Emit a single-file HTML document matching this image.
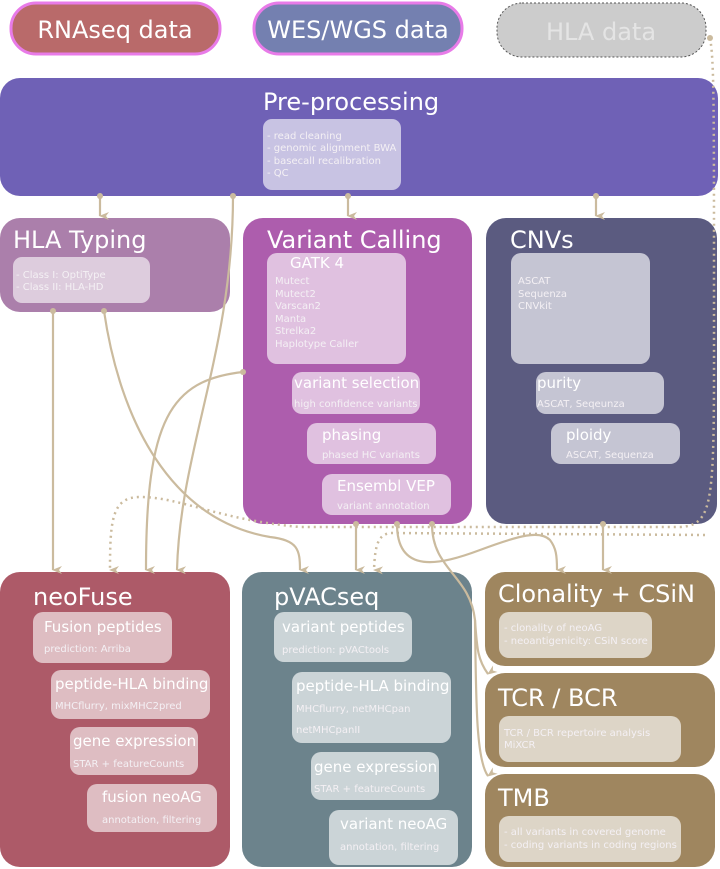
<!DOCTYPE html>
<html><head><meta charset="utf-8"><style>
body{margin:0;background:#fff}
svg{display:block}
text{font-family:"DejaVu Sans","Liberation Sans",sans-serif;fill:#fff}
.t{font-size:24px}
.s{font-size:10px;fill:#f4f0f4}
.m{font-size:15px}
</style></head><body>
<svg width="720" height="869" viewBox="0 0 720 869" xmlns="http://www.w3.org/2000/svg">
<defs>
<marker id="a" markerWidth="8" markerHeight="10" refX="4" refY="9" orient="auto" markerUnits="userSpaceOnUse" viewBox="0 0 8 10">
<path d="M0,0 L4,10 L8,0 L4,3 Z" fill="#cbbb9e"/></marker>
<marker id="ar" markerWidth="12" markerHeight="14" refX="10" refY="6" orient="auto" markerUnits="userSpaceOnUse" viewBox="0 0 12 12">
<path d="M0,0 L12,6 L0,12 L4,6 Z" fill="#cbbb9e"/></marker>
</defs>
<!-- pills -->
<rect x="11" y="3" width="209" height="51" rx="25" fill="#b96a6a" stroke="#e87be8" stroke-width="3"/>
<text x="115" y="38" class="t" text-anchor="middle" font-size="24">RNAseq data</text>
<rect x="254" y="3" width="208" height="51" rx="25" fill="#7480b0" stroke="#e87be8" stroke-width="3"/>
<text x="358" y="38" class="t" text-anchor="middle">WES/WGS data</text>
<rect x="497" y="3" width="209" height="54" rx="25" fill="#cccccc" stroke="#555" stroke-width="1" stroke-dasharray="2,2"/>
<text x="601" y="40" class="t" text-anchor="middle" style="fill:#e4e4e4">HLA data</text>

<!-- big boxes -->
<rect x="0" y="78" width="718" height="118" rx="20" fill="#6f61b6"/>
<text x="263" y="110" class="t">Pre-processing</text>
<rect x="263" y="119" width="138" height="71" rx="9" fill="#fff" fill-opacity="0.62"/>
<text class="s"><tspan x="267" y="139">- read cleaning</tspan><tspan x="267" y="151">- genomic alignment BWA</tspan><tspan x="267" y="164">- basecall recalibration</tspan><tspan x="267" y="176">- QC</tspan></text>

<rect x="0" y="218" width="230" height="94" rx="20" fill="#ab7fab"/>
<text x="13" y="248" class="t">HLA Typing</text>
<rect x="13" y="257" width="137" height="46" rx="9" fill="#fff" fill-opacity="0.6"/>
<text class="s"><tspan x="16" y="278">- Class I: OptiType</tspan><tspan x="16" y="290">- Class II: HLA-HD</tspan></text>

<rect x="243" y="218" width="229" height="306" rx="20" fill="#ad5dad"/>
<text x="267" y="248" class="t">Variant Calling</text>
<rect x="267" y="253" width="139" height="111" rx="10" fill="#fff" fill-opacity="0.62"/>
<text x="290" y="268" class="m" font-size="16">GATK 4</text>
<text class="s"><tspan x="275" y="284">Mutect</tspan><tspan x="275" y="297">Mutect2</tspan><tspan x="275" y="309">Varscan2</tspan><tspan x="275" y="322">Manta</tspan><tspan x="275" y="334">Strelka2</tspan><tspan x="275" y="347">Haplotype Caller</tspan></text>
<rect x="292" y="372" width="128" height="42" rx="10" fill="#fff" fill-opacity="0.62"/>
<text x="294" y="388" class="m">variant selection</text><text x="294" y="407" class="s">high confidence variants</text>
<rect x="307" y="423" width="129" height="41" rx="10" fill="#fff" fill-opacity="0.62"/>
<text x="322" y="440" class="m">phasing</text><text x="322" y="458" class="s">phased HC variants</text>
<rect x="322" y="474" width="129" height="41" rx="10" fill="#fff" fill-opacity="0.62"/>
<text x="337" y="491" class="m">Ensembl VEP</text><text x="337" y="509" class="s">variant annotation</text>

<rect x="486" y="218" width="231" height="306" rx="20" fill="#5b5b80"/>
<text x="510" y="248" class="t">CNVs</text>
<rect x="511" y="253" width="139" height="111" rx="10" fill="#fff" fill-opacity="0.65"/>
<text class="s"><tspan x="518" y="284">ASCAT</tspan><tspan x="518" y="297">Sequenza</tspan><tspan x="518" y="309">CNVkit</tspan></text>
<rect x="536" y="372" width="128" height="42" rx="10" fill="#fff" fill-opacity="0.65"/>
<text x="537" y="388" class="m">purity</text><text x="537" y="407" class="s">ASCAT, Seqeunza</text>
<rect x="551" y="423" width="129" height="41" rx="10" fill="#fff" fill-opacity="0.65"/>
<text x="566" y="440" class="m">ploidy</text><text x="566" y="458" class="s">ASCAT, Sequenza</text>

<rect x="0" y="572" width="230" height="295" rx="20" fill="#ad5a68"/>
<text x="33" y="605" class="t" font-size="26">neoFuse</text>
<rect x="33" y="612" width="139" height="51" rx="10" fill="#fff" fill-opacity="0.6"/>
<text x="44" y="632" class="m" font-size="16">Fusion peptides</text><text x="44" y="652" class="s">prediction: Arriba</text>
<rect x="51" y="670" width="159" height="49" rx="10" fill="#fff" fill-opacity="0.6"/>
<text x="55" y="689" class="m" font-size="16">peptide-HLA binding</text><text x="55" y="709" class="s">MHCflurry, mixMHC2pred</text>
<rect x="70" y="727" width="128" height="48" rx="10" fill="#fff" fill-opacity="0.6"/>
<text x="73" y="746" class="m" font-size="16">gene expression</text><text x="73" y="767" class="s">STAR + featureCounts</text>
<rect x="87" y="784" width="130" height="48" rx="10" fill="#fff" fill-opacity="0.6"/>
<text x="102" y="802" class="m" font-size="16">fusion neoAG</text><text x="102" y="823" class="s">annotation, filtering</text>

<rect x="242" y="572" width="230" height="295" rx="20" fill="#6c838c"/>
<text x="274" y="605" class="t" font-size="26">pVACseq</text>
<rect x="274" y="612" width="138" height="50" rx="10" fill="#fff" fill-opacity="0.65"/>
<text x="282" y="632" class="m" font-size="16">variant peptides</text><text x="282" y="653" class="s">prediction: pVACtools</text>
<rect x="292" y="672" width="159" height="71" rx="10" fill="#fff" fill-opacity="0.65"/>
<text x="296" y="691" class="m" font-size="16">peptide-HLA binding</text><text x="296" y="712" class="s">MHCflurry, netMHCpan</text><text x="296" y="733" class="s">netMHCpanII</text>
<rect x="311" y="752" width="128" height="48" rx="10" fill="#fff" fill-opacity="0.65"/>
<text x="314" y="772" class="m" font-size="16">gene expression</text><text x="314" y="792" class="s">STAR + featureCounts</text>
<rect x="329" y="810" width="129" height="55" rx="10" fill="#fff" fill-opacity="0.65"/>
<text x="340" y="829" class="m" font-size="16">variant neoAG</text><text x="340" y="850" class="s">annotation, filtering</text>

<rect x="485" y="572" width="230" height="94" rx="20" fill="#9f865f"/>
<text x="498" y="602" class="t" font-size="26">Clonality + CSiN</text>
<rect x="499" y="612" width="153" height="46" rx="10" fill="#fff" fill-opacity="0.65"/>
<text class="s"><tspan x="504" y="631">- clonality of neoAG</tspan><tspan x="504" y="644">- neoantigenicity: CSiN score</tspan></text>
<rect x="485" y="673" width="230" height="94" rx="20" fill="#9f865f"/>
<text x="498" y="706" class="t" font-size="26">TCR / BCR</text>
<rect x="499" y="716" width="182" height="46" rx="10" fill="#fff" fill-opacity="0.65"/>
<text class="s"><tspan x="504" y="736">TCR / BCR repertoire analysis</tspan><tspan x="504" y="748">MiXCR</tspan></text>
<rect x="485" y="774" width="230" height="93" rx="20" fill="#9f865f"/>
<text x="498" y="806" class="t" font-size="26">TMB</text>
<rect x="499" y="816" width="182" height="46" rx="10" fill="#fff" fill-opacity="0.65"/>
<text class="s"><tspan x="504" y="835">- all variants in covered genome</tspan><tspan x="504" y="848">- coding variants in coding regions</tspan></text>

<!-- connectors -->
<g fill="none" stroke="#cbbb9e" stroke-width="2.2">
<path d="M100,196 V216" marker-end="url(#a)"/>
<path d="M348,196 V216" marker-end="url(#a)"/>
<path d="M596,196 V216" marker-end="url(#a)"/>
<path d="M233,196 C233,350 180,450 177,570" marker-end="url(#a)"/>
<path d="M53,311 V570" marker-end="url(#a)"/>
<path d="M104,311 C120,420 170,520 270,537 C298,540 300,550 300,570" marker-end="url(#a)"/>
<path d="M243,372 C170,380 146,420 146,570" marker-end="url(#a)"/>
<path d="M356,523 V570" marker-end="url(#a)"/>
<path d="M603,524 V570" marker-end="url(#a)"/>
<path d="M397,524 C397,575 440,565 480,550 C520,535 540,530 550,540 C556,548 557,555 557,570" marker-end="url(#a)"/>
<path d="M432,524 C432,570 470,575 475,620 C477,650 478,660 488,674" marker-end="url(#a)"/>
<path d="M475,620 C476,700 476,760 488,776" marker-end="url(#a)"/>
</g>
<g fill="none" stroke="#cbbb9e" stroke-width="2.5" stroke-dasharray="2,4">
<path d="M710,38 C714,60 714,100 714,300 C714,500 716,525 680,527 L300,527 C220,520 180,497 140,497 C112,497 110,520 110,570" marker-end="url(#a)"/>
<path d="M705,535 L390,533 C378,535 375,545 374,570" marker-end="url(#a)"/>
</g>
<g fill="#cbbb9e">
<circle cx="100" cy="196" r="3"/><circle cx="348" cy="196" r="3"/><circle cx="596" cy="196" r="3"/><circle cx="233" cy="196" r="3"/>
<circle cx="53" cy="311" r="3"/><circle cx="104" cy="311" r="3"/><circle cx="243" cy="372" r="3"/>
<circle cx="356" cy="524" r="3"/><circle cx="397" cy="524" r="3"/><circle cx="432" cy="524" r="3"/><circle cx="603" cy="524" r="3"/><circle cx="710" cy="38" r="3"/>
</g>
</svg>
</body></html>
